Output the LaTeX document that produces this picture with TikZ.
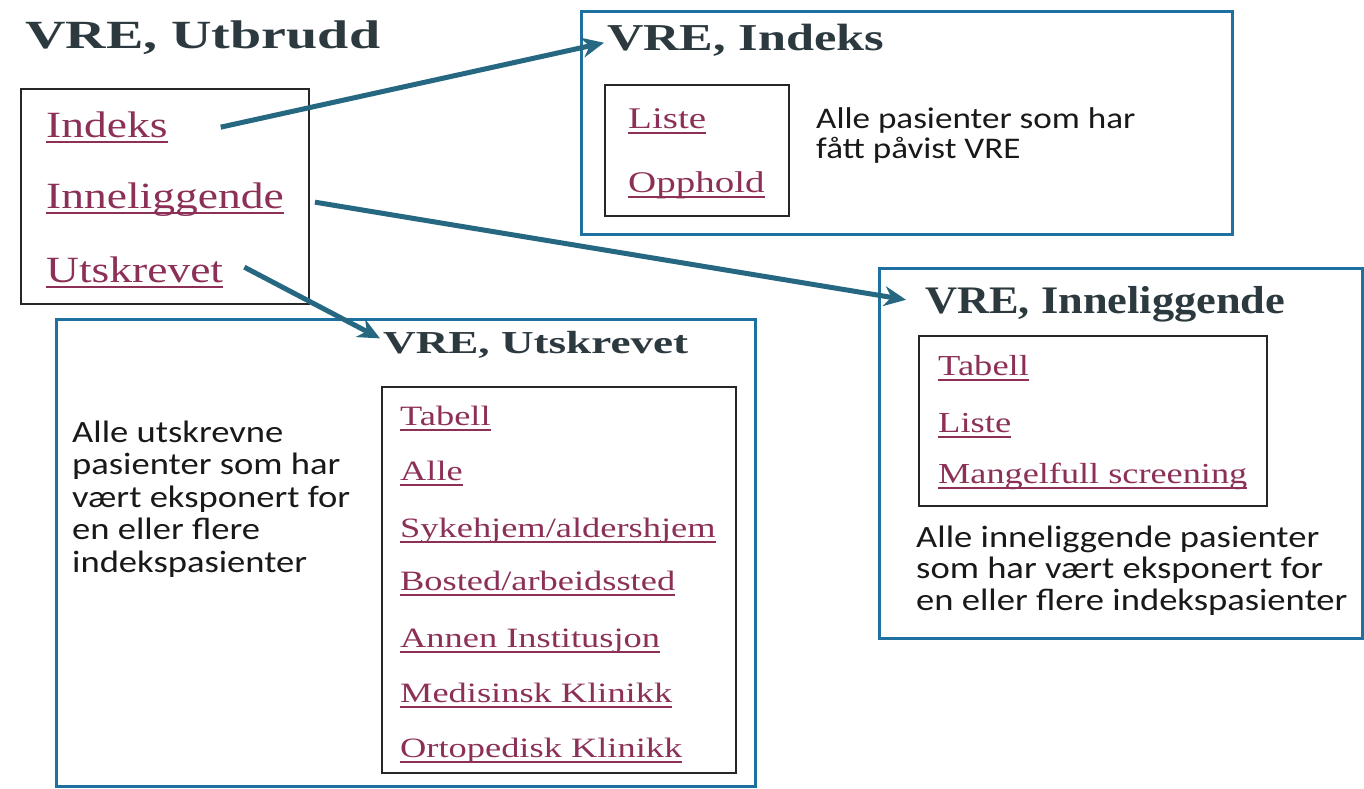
\documentclass[tikz,border=0pt]{standalone}
\usepackage{fontspec}
\setmainfont{Liberation Serif}
\newfontfamily\calib{Carlito}
\usepackage{graphicx}
\usetikzlibrary{arrows.meta}
\definecolor{lnkc}{RGB}{140,48,88}
\definecolor{titc}{RGB}{44,58,64}
\definecolor{boxblue}{RGB}{30,112,160}
\definecolor{arrc}{RGB}{38,104,130}
\definecolor{txtc}{RGB}{25,25,25}
\newcommand\lnkul[1]{\setbox0\hbox{#1}\rlap{\color{lnkc}\rule[-6pt]{\wd0}{2pt}}\box0}
\newcommand\mklink[3]{\fontsize{#1}{#1}\selectfont\scalebox{#2}[1]{\lnkul{#3}}}
\newcommand\mktitle[3]{\fontsize{#1}{#1}\selectfont\bfseries\resizebox{#2pt}{\height}{#3}}
\newcommand\mkdesc[4]{\fontsize{#1}{#2}\selectfont\calib\scalebox{#3}[1]{\begin{tabular}[t]{@{}l@{}}#4\end{tabular}}}
\tikzset{
  bluebox/.style={draw=boxblue, line width=3pt, anchor=north west, inner sep=0pt},
  blackbox/.style={draw=black!85, line width=2pt, anchor=north west, inner sep=0pt},
  ttl/.style={anchor=base west, inner sep=0pt, text=titc},
  lk/.style={anchor=base west, inner sep=0pt, text=lnkc},
  desc/.style={anchor=base west, inner sep=0pt, text=txtc},
  arr/.style={draw=arrc, line width=5pt, -{Stealth[length=22pt,width=20pt]}},
}
\begin{document}
\begin{tikzpicture}[x=1pt,y=-1pt]
\fill[white] (0,0) rectangle (1364,788);
\useasboundingbox (0,0) rectangle (1364,788);

% boxes
\node[bluebox, minimum width=651pt, minimum height=223pt] (bIndeks) at (580,10) {};
\node[bluebox, minimum width=483pt, minimum height=370pt] (bInnel) at (878,267) {};
\node[bluebox, minimum width=699pt, minimum height=467pt] (bUtskr) at (55,318) {};
\node[blackbox, minimum width=288pt, minimum height=215pt] (kUtbrudd) at (20,88) {};
\node[blackbox, minimum width=184pt, minimum height=131pt] (kIndeks) at (604,84) {};
\node[blackbox, minimum width=348pt, minimum height=170pt] (kInnel) at (918,335) {};
\node[blackbox, minimum width=354pt, minimum height=386pt] (kUtskr) at (381,386) {};

% titles
\node[ttl] (tUtbrudd) at (25,48) {\mktitle{40}{355}{VRE, Utbrudd}};
\node[ttl] (tIndeks) at (607,50) {\mktitle{38}{277}{VRE, Indeks}};
\node[ttl] (tInnel) at (925,313) {\mktitle{39}{360}{VRE, Inneliggende}};
\node[ttl] (tUtskr) at (383,353) {\mktitle{32}{305}{VRE, Utskrevet}};

% links, main box
\node[lk] (lkIndeks) at (46,137) {\mklink{37}{1.23}{Indeks}};
\node[lk] (lkInnel) at (46,208) {\mklink{37}{1.23}{Inneliggende}};
\node[lk] (lkUtskr) at (46,282) {\mklink{37}{1.23}{Utskrevet}};

% links, Indeks
\node[lk] (iListe) at (628,128) {\mklink{30}{1.3}{Liste}};
\node[lk] (iOpph) at (628,192) {\mklink{30}{1.3}{Opphold}};

% links, Inneliggende
\node[lk] (nTab) at (938,375) {\mklink{29}{1.26}{Tabell}};
\node[lk] (nListe) at (938,432) {\mklink{29}{1.26}{Liste}};
\node[lk] (nMang) at (938,483) {\mklink{29}{1.25}{Mangelfull screening}};

% links, Utskrevet
\node[lk] (uTab) at (400,425) {\mklink{28}{1.3}{Tabell}};
\node[lk] (uAlle) at (400,480) {\mklink{28}{1.3}{Alle}};
\node[lk] (uSyk) at (400,537) {\mklink{28}{1.3}{Sykehjem/aldershjem}};
\node[lk] (uBos) at (400,590) {\mklink{28}{1.3}{Bosted/arbeidssted}};
\node[lk] (uAnn) at (400,647) {\mklink{28}{1.3}{Annen Institusjon}};
\node[lk] (uMed) at (400,702) {\mklink{28}{1.3}{Medisinsk Klinikk}};
\node[lk] (uOrt) at (400,757) {\mklink{28}{1.3}{Ortopedisk Klinikk}};

% descriptions
\node[desc] (dIndeks) at (816,128) {\mkdesc{30}{30}{1.17}{Alle pasienter som har\\fått påvist VRE}};
\node[desc] (dInnel) at (916,547) {\mkdesc{31}{31.5}{1.18}{Alle inneliggende pasienter\\som har vært eksponert for\\en eller flere indekspasienter}};
\node[desc] (dUtskr) at (72,442) {\mkdesc{31}{32.5}{1.18}{Alle utskrevne\\pasienter som har\\vært eksponert for\\en eller flere\\indekspasienter}};

% connectors
\draw[arr] ([xshift=53pt]lkIndeks.east) -- ([xshift=-3pt,yshift=-3pt]tIndeks.west);
\draw[arr] ([xshift=31pt,yshift=-3pt]lkInnel.east) -- ([xshift=-19pt,yshift=4pt]tInnel.west);
\draw[arr] ([xshift=21pt,yshift=5pt]lkUtskr.east) -- ([xshift=-3pt,yshift=6pt]tUtskr.west);
\end{tikzpicture}
\end{document}
